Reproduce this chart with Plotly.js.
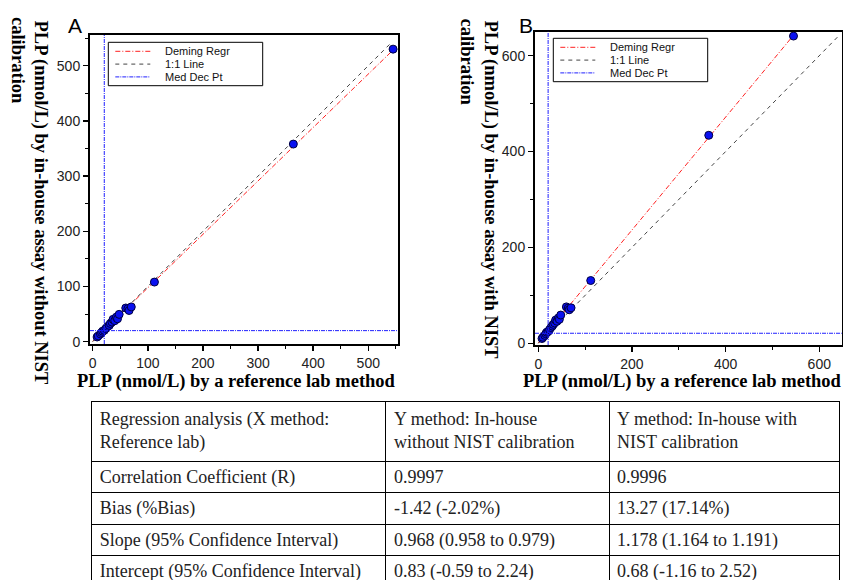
<!DOCTYPE html>
<html><head><meta charset="utf-8">
<script src="https://cdn.plot.ly/plotly-3.0.1.min.js"></script>
<style>html,body{margin:0;padding:0;background:#fff;overflow:hidden}#chart{width:843px;height:581px}</style>
</head><body><div id="chart"></div>
<script>
// ---- data ----
const refX      = [8, 10, 14, 16, 18, 21, 24, 27, 30, 32, 35, 37, 40, 43, 45, 48, 60, 64, 66, 70, 112, 364, 545];
const yNoNist   = [8.5, 10.5, 14, 16.5, 19, 20.5, 24, 27.5, 29.5, 33, 35.5, 40.5, 38, 44.5, 41.5, 49.5, 61, 60, 56.5, 63, 108, 358, 530];
const yNist     = [10, 12.5, 16.5, 20, 23, 24.5, 28.5, 33, 36, 39.5, 42.5, 48.5, 46, 53, 50, 59, 76, 73.5, 70, 74, 131, 434, 641];
const demingSlope     = [0.968, 1.178];
const demingIntercept = [0.83, 0.68];
const medDecX   = [21, 21];
const medDecY   = [20, 21];
const oneToOneEnd = [540, 640];
const legendLabels = ['Deming Regr', '1:1 Line', 'Med Dec Pt'];
const panelLabels  = ['A', 'B'];
const yTitles = ['PLP (nmol/L) by in-house assay without NIST', 'PLP (nmol/L) by in-house assay with NIST'];
const yTitleLine2 = 'calibration';
const xTitle = 'PLP (nmol/L) by a reference lab method';
const tableHeader = ['Regression analysis (X method:<br>Reference lab)', 'Y method: In-house<br>without NIST calibration', 'Y method: In-house with<br>NIST calibration'];
const rowLabels  = ['Correlation Coefficient (R)', 'Bias (%Bias)', 'Slope (95% Confidence Interval)', 'Intercept (95% Confidence Interval)'];
const colNoNist  = ['0.9997', '-1.42 (-2.02%)', '0.968 (0.958 to 0.979)', '0.83 (-0.59 to 2.24)'];
const colNist    = ['0.9996', '13.27 (17.14%)', '1.178 (1.164 to 1.191)', '0.68 (-1.16 to 2.52)'];

// ---- layout helpers ----
const W = 843, H = 581;
const px = v => v / W, py = v => 1 - v / H;
const SANS = 'Liberation Sans, Arial, sans-serif';
const SERIF = 'Liberation Serif, Times New Roman, serif';
const ySeries = [yNoNist, yNist];
const xa = ['x', 'x2'], ya = ['y', 'y2'];
const styles = {
  deming: {color: '#ff2020', width: 1, dash: '5px,2px,1px,2px'},
  one:    {color: '#444', width: 1, dash: '4px,4px'},
  med:    {color: '#2020ff', width: 1, dash: '4px,1px,1px,1px'}
};

const traces = [];
const xMax = Math.max(...refX);
for (let i = 0; i < 2; i++) {
  traces.push({x: [0, xMax], y: [demingIntercept[i], demingIntercept[i] + demingSlope[i] * xMax],
    mode: 'lines', line: styles.deming, xaxis: xa[i], yaxis: ya[i], showlegend: false, hoverinfo: 'skip'});
  traces.push({x: [0, oneToOneEnd[i]], y: [0, oneToOneEnd[i]],
    mode: 'lines', line: styles.one, xaxis: xa[i], yaxis: ya[i], showlegend: false, hoverinfo: 'skip'});
  traces.push({x: refX, y: ySeries[i], mode: 'markers', xaxis: xa[i], yaxis: ya[i], showlegend: false,
    marker: {size: 8, color: '#0a10f0', line: {color: '#000040', width: 1}}});
}
traces.push({type: 'table', domain: {x: [px(91.7), px(840)], y: [0, py(401)]},
  columnwidth: [294.3, 223.3, 230.7],
  header: {values: tableHeader, align: 'left', height: 54, line: {color: '#000', width: 1},
    fill: {color: '#fff'}, font: {family: SERIF, size: 18, color: '#222'}},
  cells: {values: [rowLabels, colNoNist, colNist], align: 'left', height: 31.4, line: {color: '#000', width: 1},
    fill: {color: '#fff'}, font: {family: SERIF, size: 18, color: '#222'}}
});

const shapes = [], annotations = [];
for (let i = 0; i < 2; i++) {
  shapes.push({type: 'line', xref: xa[i], yref: ya[i] + ' domain', x0: medDecX[i], x1: medDecX[i], y0: 0, y1: 1, line: styles.med});
  shapes.push({type: 'line', xref: xa[i] + ' domain', yref: ya[i], x0: 0, x1: 1, y0: medDecY[i], y1: medDecY[i], line: styles.med});
}
function addLegend(bx, by) {
  shapes.push({type: 'rect', xref: 'paper', yref: 'paper', x0: px(bx), x1: px(bx + 154.4), y0: py(by + 43.4), y1: py(by),
    line: {color: '#000', width: 1}, fillcolor: '#fff', layer: 'above'});
  const offs = [9, 21.8, 34.6], st = [styles.deming, styles.one, styles.med];
  offs.forEach((o, k) => {
    shapes.push({type: 'line', xref: 'paper', yref: 'paper', x0: px(bx + 7), x1: px(bx + 42), y0: py(by + o), y1: py(by + o), line: st[k], layer: 'above'});
    annotations.push({xref: 'paper', yref: 'paper', x: px(bx + 56), y: py(by + o), xanchor: 'left', yanchor: 'middle',
      text: legendLabels[k], showarrow: false, borderpad: 0,
      font: {family: SANS, size: 11, color: '#111'}});
  });
}
addLegend(108.3, 42.3);
addLegend(553.3, 38.3);

const panelPos = [[75, 25.5], [526, 25]];
const yTitlePos = [[40, 18, 18.5, 15], [490, 18, 466.7, 16.7]];
const xTitlePos = [[237, 381.7], [682, 381.7]];
for (let i = 0; i < 2; i++) {
  annotations.push({xref: 'paper', yref: 'paper', x: px(panelPos[i][0]), y: py(panelPos[i][1]), xanchor: 'center', yanchor: 'middle',
    text: panelLabels[i], showarrow: false, font: {family: SANS, size: 21, color: '#000'}});
  annotations.push({xref: 'paper', yref: 'paper', x: px(yTitlePos[i][0]), y: py(yTitlePos[i][1]), xanchor: 'center', yanchor: 'top',
    text: '<b>' + yTitles[i] + '</b>', textangle: 90, showarrow: false, font: {family: SERIF, size: 18.5, color: '#000'}});
  annotations.push({xref: 'paper', yref: 'paper', x: px(yTitlePos[i][2]), y: py(yTitlePos[i][3]), xanchor: 'center', yanchor: 'top',
    text: '<b>' + yTitleLine2 + '</b>', textangle: 90, showarrow: false, font: {family: SERIF, size: 18.5, color: '#000'}});
  annotations.push({xref: 'paper', yref: 'paper', x: px(xTitlePos[i][0]), y: py(xTitlePos[i][1]), xanchor: 'center', yanchor: 'middle',
    text: '<b>' + xTitle + '</b>', showarrow: false, font: {family: SERIF, size: 18.5, color: '#000'}});
}

function axis(domain, range, dtick, anchor) {
  return {domain, range, anchor, tick0: 0, dtick, ticks: 'outside', ticklen: 5, tickwidth: 1.5, tickcolor: '#000',
    minor: {dtick: dtick / 2, ticks: 'outside', ticklen: 3, tickwidth: 1, tickcolor: '#000'},
    showline: true, mirror: true, linewidth: 2, linecolor: '#000', showgrid: false, zeroline: false,
    tickfont: {family: SANS, size: 14, color: '#222'}, fixedrange: true};
}
const layout = {
  width: W, height: H, margin: {l: 0, r: 0, t: 0, b: 0}, paper_bgcolor: '#fff', plot_bgcolor: '#fff', showlegend: false,
  xaxis:  axis([px(90), px(398)], [-4.9, 553.9], 100, 'y'),
  yaxis:  axis([py(344), py(35)], [-4.2, 555.6], 100, 'x'),
  xaxis2: axis([px(535), px(841.7)], [-7, 647.9], 200, 'y2'),
  yaxis2: axis([py(345), py(31.7)], [-3.5, 650.1], 200, 'x2'),
  shapes, annotations
};
Plotly.newPlot('chart', traces, layout, {displayModeBar: false, staticPlot: true});
</script></body></html>
